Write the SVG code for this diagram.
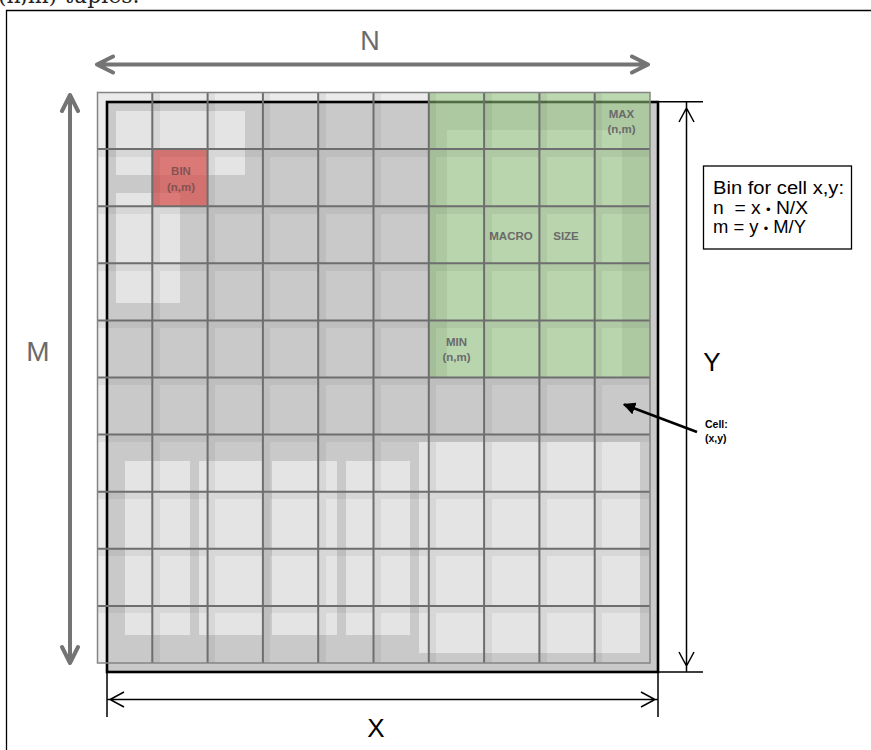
<svg xmlns="http://www.w3.org/2000/svg" width="871" height="750" viewBox="0 0 871 750">
<defs>
<style>
.lbl{font-family:"Liberation Sans",Arial,sans-serif;font-weight:bold;font-size:11.5px;fill:#6a6a6a;text-anchor:middle}
.grid{stroke:#6e6e6e;stroke-width:2;fill:none}
.band{fill:#000;opacity:0.05}
.dimg{stroke:#747474;stroke-width:4;fill:none;stroke-linecap:round;stroke-linejoin:round}
.dimk{stroke:#000;stroke-width:1.5;fill:none}
.big{font-family:"Liberation Sans",Arial,sans-serif;text-anchor:middle}
.light{fill:#e4e4e4}
.f{font-family:"Liberation Sans",Arial,sans-serif;font-size:17.5px;fill:#000;white-space:pre}
</style>
<marker id="tri" viewBox="0 0 10 10" refX="9" refY="5" markerWidth="5" markerHeight="5" orient="auto-start-reverse" markerUnits="strokeWidth">
<path d="M0,0 L10,5 L0,10 z" fill="#000"/>
</marker>
</defs>
<rect width="871" height="750" fill="#fff"/>
<text x="-2" y="3" font-family="'DejaVu Serif','Liberation Serif',serif" font-size="22" fill="#222">(n,m) tuples.</text>
<path d="M6.5,760 V10.5 H880" stroke="#000" stroke-width="1.3" fill="none"/>

<g id="grid-area">
<rect x="97" y="92" width="553" height="571" fill="#ebebeb"/>
<rect x="107" y="102" width="551" height="570" fill="#c9c9c9"/>
<rect class="light" x="116" y="111" width="129" height="64"/>
<rect class="light" x="116" y="193" width="64" height="110"/>
<rect class="light" x="125" y="461" width="65" height="174"/>
<rect class="light" x="199" y="461" width="63" height="174"/>
<rect class="light" x="272" y="461" width="65" height="174"/>
<rect class="light" x="346" y="461" width="64" height="174"/>
<rect class="light" x="419" y="442" width="221" height="211"/>
<rect class="light" x="447" y="130" width="175" height="247"/>
<rect x="107" y="102" width="551" height="570" fill="none" stroke="#000" stroke-width="2.6"/>
</g>

<g id="macro">
<rect x="429" y="92" width="221" height="285" fill="rgb(150,200,130)" opacity="0.55"/>
<text class="lbl" x="621.5" y="118">MAX</text>
<text class="lbl" x="621.5" y="133">(n,m)</text>
<text class="lbl" x="511" y="240">MACRO</text>
<text class="lbl" x="566" y="240">SIZE</text>
<text class="lbl" x="456.5" y="346">MIN</text>
<text class="lbl" x="456.5" y="361">(n,m)</text>
</g>

<g id="bin">
<rect x="153" y="150" width="55" height="56" fill="rgb(215,75,72)" opacity="0.7"/>
<text class="lbl" x="181" y="175" style="fill:#855252">BIN</text>
<text class="lbl" x="181" y="191" style="fill:#855252">(n,m)</text>
</g>

<g id="gridlines">
<g class="band">
<rect x="153" y="92" width="7" height="571"/>
<rect x="208" y="92" width="7" height="571"/>
<rect x="263" y="92" width="7" height="571"/>
<rect x="319" y="92" width="7" height="571"/>
<rect x="374" y="92" width="7" height="571"/>
<rect x="429" y="92" width="7" height="571"/>
<rect x="485" y="92" width="7" height="571"/>
<rect x="540" y="92" width="7" height="571"/>
<rect x="595" y="92" width="7" height="571"/>
<rect x="97" y="150" width="553" height="7"/>
<rect x="97" y="207" width="553" height="7"/>
<rect x="97" y="264" width="553" height="7"/>
<rect x="97" y="321" width="553" height="7"/>
<rect x="97" y="378" width="553" height="7"/>
<rect x="97" y="435" width="553" height="7"/>
<rect x="97" y="492" width="553" height="7"/>
<rect x="97" y="549" width="553" height="7"/>
<rect x="97" y="606" width="553" height="7"/>
</g>
<path class="grid" d="M152.3,92V663 M207.6,92V663 M262.9,92V663 M318.2,92V663 M373.5,92V663 M428.8,92V663 M484.1,92V663 M539.4,92V663 M594.7,92V663 M97,149.1H650 M97,206.2H650 M97,263.3H650 M97,320.4H650 M97,377.5H650 M97,434.6H650 M97,491.7H650 M97,548.8H650 M97,605.9H650"/>
<rect x="97.5" y="92.5" width="552.5" height="570.5" fill="none" stroke="#858585" stroke-width="1.5"/>
</g>

<g id="connectors">
<path class="dimg" d="M97,64.5H648 M113,56.5L97,64.5L113,72.5 M632,56.5L648,64.5L632,72.5"/>
<path class="dimg" d="M70,95V663 M62,111L70,95L78,111 M62,647L70,663L78,647"/>
<path class="dimk" d="M658,101.8H703 M658,672H703 M686.5,102V672 M679,122L686.5,108L694,122 M679,652L686.5,666L694,652"/>
<path class="dimk" d="M107,672V717 M658,672V717 M107,699.5H658 M124,692L110,699.5L124,707 M641,692L655,699.5L641,707"/>
<line x1="697" y1="432" x2="624" y2="404.5" stroke="#000" stroke-width="2.5" marker-end="url(#tri)"/>
</g>

<g id="labels">
<text class="big" x="370" y="50" font-size="27" fill="#6a6a6a">N</text>
<text class="big" x="38" y="361" font-size="28" fill="#6a6a6a">M</text>
<text class="big" x="712" y="371" font-size="26" fill="#000">Y</text>
<text class="big" x="376" y="737" font-size="26" fill="#000">X</text>
<text x="705" y="428" font-family="'Liberation Sans',Arial,sans-serif" font-size="10.5" font-weight="bold" fill="#000">Cell:</text>
<text x="705" y="442" font-family="'Liberation Sans',Arial,sans-serif" font-size="10.5" font-weight="bold" fill="#000">(x,y)</text>
</g>

<g id="formula">
<rect x="703.5" y="166" width="148" height="83" fill="#fff" stroke="#000" stroke-width="1.3"/>
<text class="f" x="713" y="194" textLength="131" lengthAdjust="spacingAndGlyphs">Bin for cell x,y:</text>
<text class="f" x="713" y="214" textLength="95" lengthAdjust="spacingAndGlyphs">n  = x <tspan font-size="12">•</tspan> N/X</text>
<text class="f" x="713" y="233" textLength="93" lengthAdjust="spacingAndGlyphs">m = y <tspan font-size="12">•</tspan> M/Y</text>
</g>
</svg>
